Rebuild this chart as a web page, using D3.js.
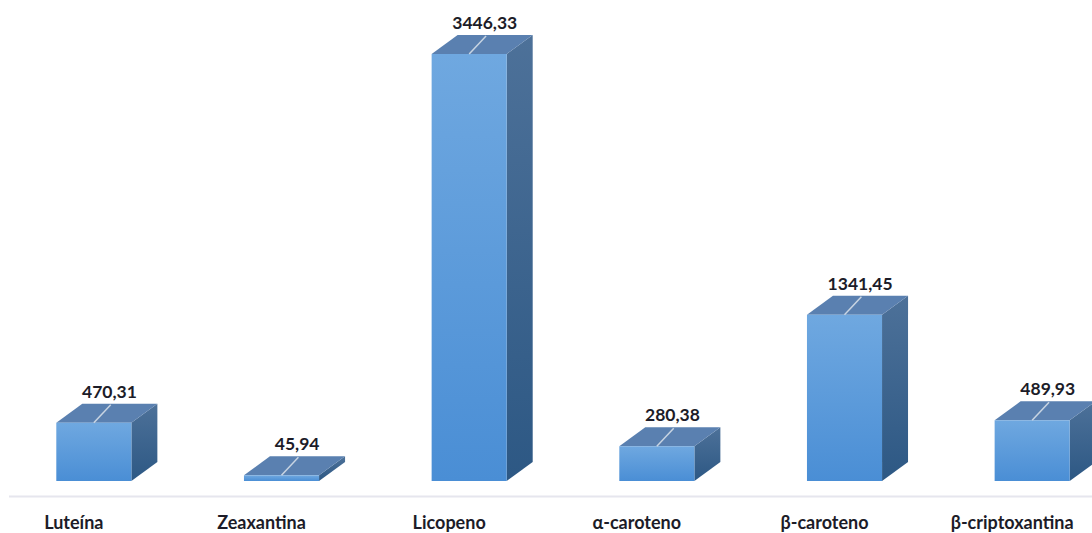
<!DOCTYPE html>
<html><head><meta charset="utf-8">
<script src="https://cdn.jsdelivr.net/npm/d3@7"></script>
<style>html,body{margin:0;padding:0;background:#fff;overflow:hidden}</style>
</head><body>
<svg id="chart" width="1092" height="533"></svg>
<script>
const categories = ["Luteína","Zeaxantina","Licopeno","α-caroteno","β-caroteno","β-criptoxantina"];
const values = [470.31, 45.94, 3446.33, 280.38, 1341.45, 489.93];
const valueLabels = ["470,31","45,94","3446,33","280,38","1341,45","489,93"];

const svg = d3.select("#chart");
const W = 1092, H = 533;
const depthX = 26, depthY = 19;
const x = d3.scaleBand().domain(categories).range([0, 1126]).paddingInner(0.6).paddingOuter(0.3);
const y = d3.scaleLinear().domain([0, 3446.33]).range([481, 54]);

const defs = svg.append("defs");
const gf = defs.append("linearGradient").attr("id","gFront").attr("x1",0).attr("y1",0).attr("x2",0).attr("y2",1);
gf.append("stop").attr("offset","0%").attr("stop-color","#6fa8e0");
gf.append("stop").attr("offset","100%").attr("stop-color","#4a8ed5");
const gs = defs.append("linearGradient").attr("id","gSide").attr("x1",0).attr("y1",0).attr("x2",0).attr("y2",1);
gs.append("stop").attr("offset","0%").attr("stop-color","#4d7199");
gs.append("stop").attr("offset","100%").attr("stop-color","#2d5884");

// floor line
svg.append("line").attr("x1",9).attr("x2",W).attr("y1",496.5).attr("y2",496.5)
  .attr("stroke","#e6e6ee").attr("stroke-width",2);

const g = svg.append("g");
categories.forEach((c,i)=>{
  const bx = x(c), bw = x.bandwidth(), y0 = y(0), y1 = y(values[i]);
  g.append("path").attr("d",`M${bx+bw},${y1} L${bx+bw+depthX},${y1-depthY} L${bx+bw+depthX},${y0-depthY} L${bx+bw},${y0} Z`)
    .attr("fill","url(#gSide)");
  g.append("path").attr("d",`M${bx},${y1} L${bx+depthX},${y1-depthY} L${bx+bw+depthX},${y1-depthY} L${bx+bw},${y1} Z`)
    .attr("fill","#5a80b0");
  g.append("rect").attr("x",bx).attr("y",y1).attr("width",bw).attr("height",Math.max(0,y0-y1))
    .attr("fill","url(#gFront)");
  const cx = bx + bw/2;
  g.append("line").attr("x1",cx).attr("y1",y1).attr("x2",cx+depthX*0.65).attr("y2",y1-depthY*0.95)
    .attr("stroke","#c8d4e2").attr("stroke-width",1.5);
  g.append("text").attr("x",cx+depthX*0.6).attr("y",y1-depthY-6).attr("text-anchor","middle")
    .attr("font-family","Lato, 'Noto Sans', sans-serif").attr("font-weight","bold").attr("font-size",17.5)
    .attr("fill","#1c1c28").text(valueLabels[i]);
  g.append("text").attr("x",cx-20).attr("y",529).attr("text-anchor","middle")
    .attr("font-family","Lato, 'Noto Sans', sans-serif").attr("font-weight","bold").attr("font-size",18)
    .attr("fill","#1c1c28").text(c);
});
</script>
</body></html>
